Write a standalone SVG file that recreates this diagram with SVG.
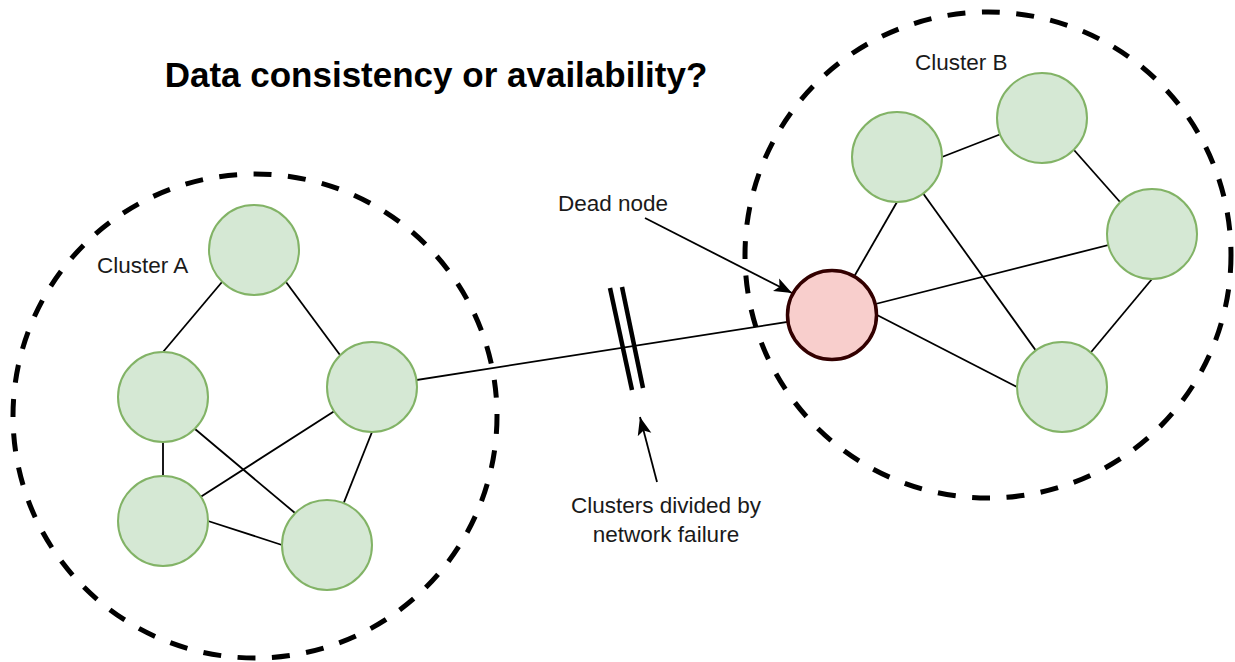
<svg xmlns="http://www.w3.org/2000/svg" width="1235" height="662" viewBox="0 0 1235 662">
  <style>
    .cluster { fill: none; stroke: #000; stroke-width: 5; stroke-dasharray: 18 16.5; }
    .node { fill: #d5e8d4; stroke: #82b366; stroke-width: 2; }
    .dead { fill: #f8cecc; stroke: #330000; stroke-width: 3.5; }
    .edge { stroke: #000; stroke-width: 1.8; fill: none; }
    .cut { stroke: #000; stroke-width: 4.5; fill: none; }
    .pointer { stroke: #000; stroke-width: 1.8; fill: none; marker-end: url(#head); }
    .label { font-family: "Liberation Sans", Arial, sans-serif; font-size: 22.5px; fill: #1a1a1a; }
    .title { font-family: "Liberation Sans", Arial, sans-serif; font-size: 35px; font-weight: bold; fill: #000; }
  </style>
  <defs>
    <marker id="head" markerUnits="userSpaceOnUse" markerWidth="20" markerHeight="16" refX="18" refY="7" orient="auto" viewBox="0 0 20 14">
      <path d="M0,0 L18,7 L0,14 L4,7 Z" fill="#000"/>
    </marker>
  </defs>

  <rect width="1235" height="662" fill="#fff"/>

  <text class="title" x="436" y="87" text-anchor="middle">Data consistency or availability?</text>

  <!-- cluster boundaries -->
  <g id="cluster-a">
    <ellipse class="cluster" cx="255" cy="416" rx="242" ry="242"/>
    <text class="label" x="97" y="273">Cluster A</text>
  </g>
  <g id="cluster-b">
    <ellipse class="cluster" cx="988" cy="255" rx="243" ry="243"/>
    <text class="label" x="915" y="70">Cluster B</text>
  </g>

  <!-- links between nodes -->
  <g id="connectors">
    <!-- cluster A -->
    <line class="edge" x1="222" y1="282" x2="163" y2="352"/>
    <line class="edge" x1="286" y1="282" x2="340" y2="355"/>
    <line class="edge" x1="163" y1="442" x2="163" y2="476"/>
    <line class="edge" x1="195" y1="429" x2="295" y2="513"/>
    <line class="edge" x1="372" y1="387" x2="163" y2="521"/>
    <line class="edge" x1="372" y1="432" x2="327" y2="545"/>
    <line class="edge" x1="208" y1="521" x2="282" y2="545"/>
    <!-- link across the partition -->
    <line class="edge" x1="372" y1="387" x2="832" y2="315"/>
    <!-- cluster B -->
    <line class="edge" x1="832" y1="315" x2="897" y2="202"/>
    <line class="edge" x1="942" y1="157" x2="1042" y2="118"/>
    <line class="edge" x1="1074" y1="150" x2="1120" y2="202"/>
    <line class="edge" x1="1152" y1="279" x2="1062" y2="387"/>
    <line class="edge" x1="897" y1="157" x2="1062" y2="387"/>
    <line class="edge" x1="832" y1="315" x2="1152" y2="234"/>
    <line class="edge" x1="877" y1="315" x2="1017" y2="387"/>
    <!-- break marks on the cut link -->
    <line class="cut" x1="610" y1="288" x2="632" y2="390"/>
    <line class="cut" x1="622" y1="287" x2="643" y2="388"/>
    <!-- annotation arrows -->
    <line class="pointer" x1="645" y1="218" x2="792" y2="293"/>
    <line class="pointer" x1="657" y1="482" x2="640" y2="417"/>
  </g>

  <!-- cluster A nodes -->
  <g id="a1"><circle class="node" cx="254" cy="250" r="45"/></g>
  <g id="a2"><circle class="node" cx="163" cy="397" r="45"/></g>
  <g id="a3"><circle class="node" cx="372" cy="387" r="45"/></g>
  <g id="a4"><circle class="node" cx="163" cy="521" r="45"/></g>
  <g id="a5"><circle class="node" cx="327" cy="545" r="45"/></g>

  <!-- cluster B nodes -->
  <g id="b-dead"><circle class="dead" cx="832" cy="315" r="44.5"/></g>
  <g id="b1"><circle class="node" cx="897" cy="157" r="45"/></g>
  <g id="b2"><circle class="node" cx="1042" cy="118" r="45"/></g>
  <g id="b3"><circle class="node" cx="1152" cy="234" r="45"/></g>
  <g id="b4"><circle class="node" cx="1062" cy="387" r="45"/></g>

  <!-- annotations -->
  <g id="dead-node-label">
    <text class="label" x="558" y="211">Dead node</text>
  </g>
  <g id="partition-label">
    <text class="label" x="666" y="513" text-anchor="middle">Clusters divided by</text>
    <text class="label" x="666" y="542" text-anchor="middle">network failure</text>
  </g>
</svg>
